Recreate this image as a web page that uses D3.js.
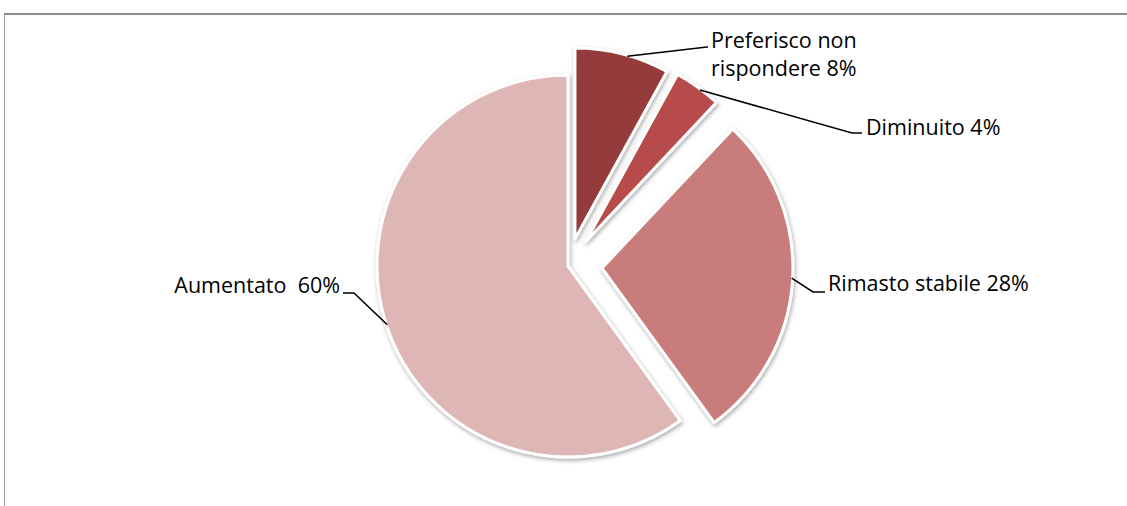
<!DOCTYPE html>
<html>
<head>
<meta charset="utf-8">
<script src="https://cdn.jsdelivr.net/npm/d3@7"></script>
<style>
  body { margin: 0; background: #fff; }
  svg { display: block; }
  .label { font-family: "Open Sans", sans-serif; font-size: 21.5px; fill: #000; white-space: pre; }
  .leader { fill: none; stroke: #000; stroke-width: 1.6; }
</style>
</head>
<body>
<svg id="chart" width="1127" height="506"></svg>
<script>
// data, clockwise from 12 o'clock
const categories = ['Preferisco non rispondere', 'Diminuito', 'Rimasto stabile', 'Aumentato'];
const values = [8, 4, 28, 60];
const labelLines = [['Preferisco non', 'rispondere 8%'], ['Diminuito 4%'], ['Rimasto stabile 28%'], ['Aumentato  60%']];

const colors = ['#953a3a', '#b74c4b', '#c87b7b', '#dfb6b6'];
const explode = [28, 30, 34, 0];

// leader layout: anchor angle on arc (deg), elbow, line end, text baseline start
const labelLayout = [
    { angle: 16, elbow: [707, 47], end: [708, 47], text: [711, 48], anchor: 'start' },
    { angle: 37, elbow: [852, 133], end: [862, 133], text: [866, 135], anchor: 'start' },
    { angle: 93, elbow: [813, 292], end: [825, 292], text: [828, 291], anchor: 'start' },
    { angle: 252, elbow: [354, 293], end: [343, 293], text: [340, 293], anchor: 'end' }
];

const svg = d3.select('#chart');
const cx = 568, cy = 266, radius = 191;

const defs = svg.append('defs');
defs.append('filter')
    .attr('id', 'shadow')
    .attr('x', '-20%').attr('y', '-20%')
    .attr('width', '140%').attr('height', '140%')
    .append('feDropShadow')
    .attr('dx', 1).attr('dy', 2)
    .attr('stdDeviation', 2)
    .attr('flood-color', '#000')
    .attr('flood-opacity', 0.35);

// chart frame
svg.append('line')
    .attr('x1', 4).attr('y1', 14).attr('x2', 1127).attr('y2', 14)
    .attr('stroke', '#8c8c8c').attr('stroke-width', 2);
svg.append('line')
    .attr('x1', 4.5).attr('y1', 14).attr('x2', 4.5).attr('y2', 506)
    .attr('stroke', '#9a9a9a').attr('stroke-width', 1);

const pie = d3.pie().sort(null).value(d => d);
const arcs = pie(values);
const arc = d3.arc().innerRadius(0).outerRadius(radius);

// slice centre after explode
function offset(d, i) {
    const mid = (d.startAngle + d.endAngle) / 2;
    return [cx + explode[i] * Math.sin(mid), cy - explode[i] * Math.cos(mid)];
}

svg.append('g')
    .selectAll('path')
    .data(arcs)
    .enter().append('path')
    .attr('transform', (d, i) => `translate(${offset(d, i)})`)
    .attr('d', arc)
    .attr('fill', (d, i) => colors[i])
    .attr('stroke', '#fff')
    .attr('stroke-width', 3)
    .attr('stroke-linejoin', 'round')
    .attr('filter', 'url(#shadow)');

const labels = svg.append('g');
arcs.forEach((d, i) => {
    const lay = labelLayout[i];
    const [ox, oy] = offset(d, i);
    const a = lay.angle * Math.PI / 180;
    const start = [ox + (radius - 1) * Math.sin(a), oy - (radius - 1) * Math.cos(a)];

    labels.append('path')
        .attr('class', 'leader')
        .attr('d', d3.line()([start, lay.elbow, lay.end]));

    const t = labels.append('text')
        .attr('class', 'label')
        .attr('x', lay.text[0])
        .attr('y', lay.text[1])
        .attr('text-anchor', lay.anchor);
    labelLines[i].forEach((line, j) => {
        t.append('tspan')
            .attr('x', lay.text[0])
            .attr('dy', j === 0 ? 0 : 28)
            .text(line);
    });
});
</script>
</body>
</html>
